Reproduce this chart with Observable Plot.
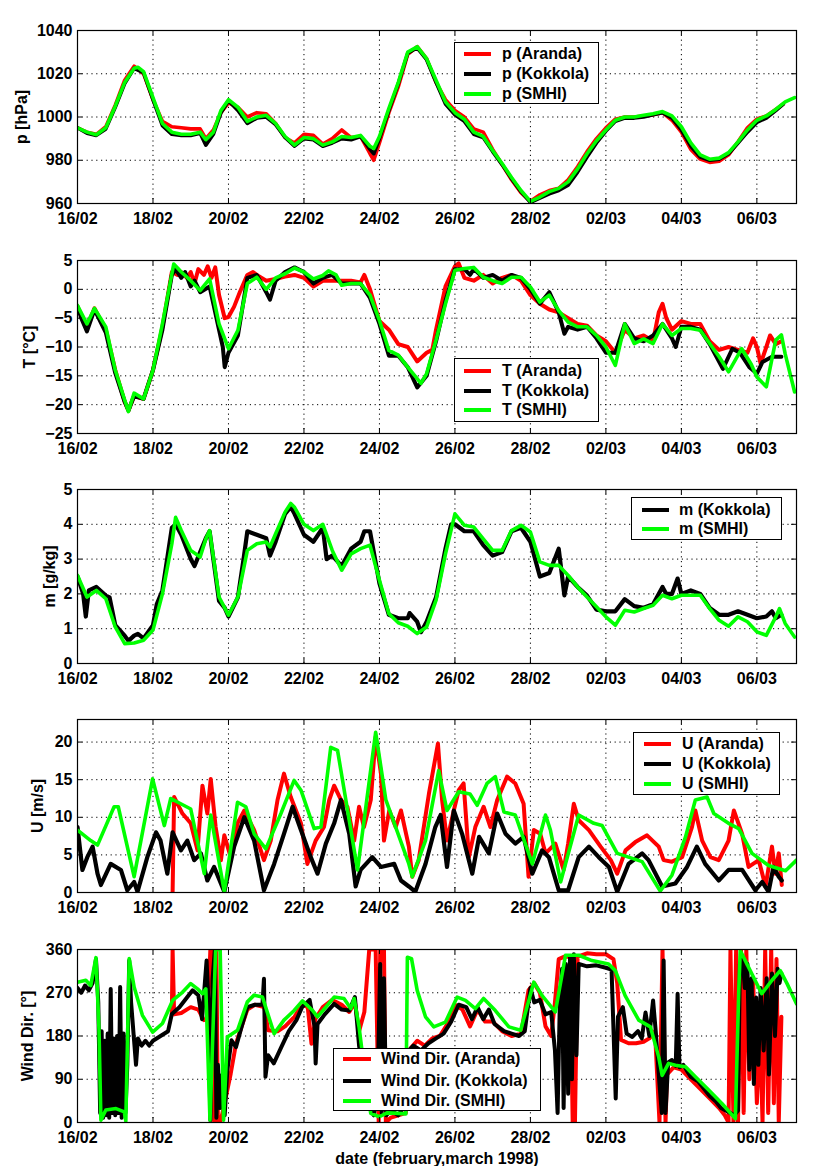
<!DOCTYPE html>
<html><head><meta charset="utf-8">
<script src="https://cdn.jsdelivr.net/npm/d3@7"></script>
<script src="https://cdn.jsdelivr.net/npm/@observablehq/plot@0.6"></script>
<style>
body{margin:0;background:#fff;}
#wrap{position:relative;width:816px;height:1166px;overflow:hidden;font-family:"Liberation Sans",Arial,sans-serif;font-weight:bold;background:#fff;}
.panel{position:absolute;left:0;}
.legend{position:absolute;background:#fff;border:1px solid #000;box-sizing:border-box;font-size:16px;color:#000;}
.row{position:absolute;height:20px;line-height:20px;white-space:nowrap;}
.swatch{position:absolute;height:4px;}
#topline{position:absolute;left:0;top:4px;width:816px;height:1px;background:#f55;}
</style></head><body><div id="wrap"><div id="topline"></div></div>
<script>
// ---- axes ----
const xTickDays = [0, 2, 4, 6, 8, 10, 12, 14, 16, 18];
const xTickLabels = ["16/02","18/02","20/02","22/02","24/02","26/02","28/02","02/03","04/03","06/03"];
const xDomain = [0, 19.05];
const colors = {Aranda: "#ff0000", Kokkola: "#000000", SMHI: "#00ff00"};

// ---- pressure [hPa], [day since 16/02, value] ----
const pAranda = [[0,995],[0.25,993],[0.5,992],[0.75,995.5],[1,1005.5],[1.25,1017],[1.5,1023.5],[1.75,1020],[2,1008],[2.25,998],[2.5,995.5],[2.75,995],[3,994.5],[3.25,994.5],[3.4,990],[3.6,994],[3.8,1002],[4,1006.5],[4.25,1004.5],[4.5,1000],[4.75,1002],[5,1001.5],[5.25,997],[5.5,990.5],[5.75,988],[6,992],[6.25,991.5],[6.5,987.5],[6.75,990],[7,994],[7.25,990.5],[7.5,991],[7.75,983],[7.85,980],[8,988],[8.25,1002],[8.5,1014],[8.75,1029],[9,1032.5],[9.25,1027],[9.5,1016],[9.75,1008],[10,1003],[10.25,1000],[10.5,994.5],[10.75,993],[11,985],[11.25,978],[11.5,971],[11.75,965],[12,961],[12.25,964],[12.5,966],[12.75,967],[13,971],[13.25,977],[13.5,984],[13.75,990],[14,995],[14.25,999],[14.5,1000],[14.75,1000],[15,1000.5],[15.25,1001],[15.5,1002],[15.75,998.5],[16,993],[16.25,985],[16.5,980.5],[16.75,979],[17,979.5],[17.25,982.5],[17.5,988.5],[17.75,995],[18,999],[18.25,1000.5],[18.5,1003.5],[18.7,1006]];
const pKokkola = [[0,995],[0.25,992.5],[0.5,991.5],[0.75,994.5],[1,1004.5],[1.25,1015.5],[1.5,1022.5],[1.75,1020.5],[2,1008],[2.25,996],[2.5,992],[2.75,991.5],[3,991.5],[3.25,992.5],[3.4,987],[3.6,992],[3.8,1002],[4,1007.5],[4.25,1003],[4.5,997],[4.75,999.5],[5,1000],[5.25,996.5],[5.5,990.5],[5.75,986.5],[6,990],[6.25,989.5],[6.5,986.5],[6.75,988],[7,990],[7.25,989.5],[7.5,991],[7.75,985],[7.85,983],[8,990],[8.25,1003],[8.5,1015.5],[8.75,1029.5],[9,1032],[9.25,1026.5],[9.5,1016],[9.75,1006],[10,1001],[10.25,998],[10.5,992],[10.75,990.5],[11,984],[11.25,978],[11.5,971.5],[11.75,965.5],[12,960.5],[12.25,962.5],[12.5,964.5],[12.75,966],[13,968.5],[13.25,974.5],[13.5,981.5],[13.75,988],[14,993.5],[14.25,998],[14.5,999.5],[14.75,999.5],[15,1000],[15.25,1001],[15.5,1002],[15.75,999.5],[16,994],[16.25,986.5],[16.5,981.5],[16.75,980],[17,980.5],[17.25,983],[17.5,988],[17.75,993],[18,997.5],[18.25,999.5],[18.5,1003],[18.7,1006]];
const pSMHI = [[0,995],[0.25,993],[0.5,991.8],[0.75,995],[1,1005],[1.25,1016],[1.5,1022.5],[1.6,1023],[1.75,1021],[2,1009],[2.25,997],[2.5,993],[2.75,992],[3,992],[3.25,993],[3.4,989.5],[3.6,993],[3.8,1003],[4,1008],[4.25,1004.5],[4.5,998],[4.75,1000],[5,1000.8],[5.25,997],[5.5,991],[5.75,987],[6,990.5],[6.25,990],[6.5,987],[6.75,988.5],[7,991],[7.25,990.5],[7.5,991.5],[7.75,986.5],[7.85,985.4],[8,991],[8.25,1004],[8.5,1016],[8.75,1030],[9,1032.5],[9.25,1027],[9.5,1017],[9.75,1007],[10,1002],[10.25,999],[10.5,993],[10.75,991],[11,984.5],[11.25,978.5],[11.5,972],[11.75,966],[12,961],[12.25,963],[12.5,965.5],[12.75,967],[13,970],[13.25,976],[13.5,983],[13.75,989],[14,994],[14.25,998.5],[14.5,1000],[14.75,1000],[15,1000.8],[15.25,1001.5],[15.5,1002.5],[15.75,1000.5],[16,995.5],[16.25,988],[16.5,982.5],[16.75,980.5],[17,981],[17.25,983.5],[17.5,988.5],[17.75,994],[18,998.5],[18.25,1000.5],[18.5,1003.5],[18.75,1007],[19,1009]];

// ---- temperature [°C] ----
const tAranda = [[0,-3],[0.25,-6.5],[0.45,-3.3],[0.75,-7],[1,-14],[1.25,-19.5],[1.35,-21],[1.5,-18.5],[1.75,-19],[2,-14],[2.25,-6.5],[2.5,3],[2.65,2.5],[2.75,3],[2.9,2],[3,3],[3.1,1],[3.2,3.5],[3.35,2.5],[3.45,4],[3.55,2],[3.65,3.8],[3.75,-1],[3.9,-5],[4,-4.8],[4.15,-3],[4.3,-0.5],[4.5,2.5],[4.65,3],[4.75,2.5],[5,1.5],[5.25,1.8],[5.5,2.2],[5.75,2.5],[6,2],[6.25,0.5],[6.5,1.5],[6.75,1.5],[7,1.5],[7.25,1.5],[7.5,1.2],[7.6,2.5],[7.75,0],[8,-5.5],[8.25,-7],[8.5,-9.5],[8.75,-10],[9,-12.5],[9.25,-11],[9.4,-10.5],[9.5,-7],[9.75,0.5],[10,4],[10.1,4.5],[10.25,2],[10.5,1.5],[10.75,2.5],[11,1],[11.25,2],[11.5,2.5],[11.75,1.5],[12,-1],[12.25,-2.5],[12.5,-3.5],[12.75,-4],[13,-5],[13.25,-6],[13.5,-6.3],[13.75,-8],[14,-9],[14.25,-11],[14.5,-7],[14.75,-8.5],[15,-8],[15.25,-9],[15.4,-4],[15.5,-2.5],[15.6,-5],[15.75,-7],[16,-5.5],[16.25,-6],[16.5,-6],[16.75,-9],[17,-10.5],[17.25,-10],[17.5,-10.5],[17.75,-11],[17.9,-8.5],[18,-10],[18.1,-12.9],[18.25,-10],[18.35,-8],[18.5,-9.5],[18.65,-9]];
const tKokkola = [[0,-3],[0.1,-5],[0.25,-7.3],[0.45,-3.5],[0.75,-7.5],[1,-14.5],[1.25,-19.5],[1.35,-21],[1.5,-18.5],[1.75,-19],[2,-14],[2.25,-7],[2.5,2.5],[2.6,3.5],[2.75,2],[2.85,3],[3,0.5],[3.1,1.5],[3.25,-0.5],[3.5,0.5],[3.75,-7],[3.85,-10],[3.9,-13.5],[4,-11],[4.25,-8],[4.5,2],[4.75,2.5],[5,-0.5],[5.1,-1.8],[5.25,1.5],[5.5,3],[5.75,3.8],[6,3],[6.25,1],[6.5,2],[6.75,2.5],[7,1],[7.25,1],[7.5,1],[7.75,-1.5],[8,-6],[8.25,-11.5],[8.5,-11.5],[8.75,-13.5],[9,-17],[9.25,-15],[9.5,-9],[9.75,-2],[10,3.5],[10.25,3.5],[10.4,2.5],[10.5,3.5],[10.75,2],[11,2.5],[11.25,1.5],[11.5,2.5],[11.75,2],[12,0],[12.25,-2.5],[12.5,-0.5],[12.75,-4],[12.9,-7.7],[13,-6.5],[13.25,-7],[13.5,-6.5],[13.75,-8.5],[14,-11],[14.25,-11],[14.5,-6],[14.75,-8.5],[15,-9],[15.25,-8],[15.5,-6],[15.75,-8.5],[15.85,-10],[16,-6.5],[16.25,-6.5],[16.5,-7],[16.75,-9.5],[17.1,-13.8],[17.35,-10.3],[17.55,-11],[17.8,-13.5],[18,-14.6],[18.15,-12.6],[18.4,-11.7],[18.65,-11.7]];
const tSMHI = [[0,-2.8],[0.25,-6],[0.45,-3.3],[0.75,-6.5],[1,-14],[1.25,-19.2],[1.35,-21.2],[1.5,-18],[1.75,-19],[2,-14],[2.25,-6],[2.55,4.4],[2.75,3],[3,1.5],[3.25,-0.2],[3.5,1.8],[3.75,-6],[4,-10.3],[4.25,-7.1],[4.5,1],[4.75,2.1],[5,0],[5.25,2],[5.5,2.7],[5.75,3.7],[6,3],[6.25,1.8],[6.5,2.4],[6.65,3.2],[6.85,2.5],[7,0.7],[7.25,1],[7.5,1],[7.75,-1],[8,-5.4],[8.25,-10.6],[8.5,-11.4],[8.75,-13.5],[9,-15.5],[9.1,-16.3],[9.25,-14.6],[9.5,-8.8],[9.75,-2.5],[10,3.3],[10.25,3.6],[10.5,3.8],[10.75,2.1],[11,1.5],[11.25,1],[11.5,2.1],[11.75,2.1],[12,0.4],[12.25,-2.2],[12.5,-1],[12.75,-3.7],[13,-5.7],[13.25,-6.5],[13.5,-6.5],[13.75,-8],[14,-10],[14.25,-13.2],[14.5,-6],[14.75,-9.4],[15,-8.6],[15.25,-9.4],[15.5,-6],[15.75,-8],[16,-6.8],[16.25,-6.8],[16.5,-7.1],[16.75,-9.4],[17,-11.7],[17.25,-14.3],[17.6,-10.3],[17.85,-13],[18,-15.2],[18.25,-16.9],[18.5,-8.8],[18.65,-7.9],[18.75,-11.2],[19,-17.8]];

// ---- specific humidity [g/kg] ----
const mKokkola = [[0,2.5],[0.15,2],[0.22,1.35],[0.3,2.1],[0.5,2.2],[0.75,1.95],[0.85,1.9],[1,1.1],[1.25,0.8],[1.35,0.65],[1.5,0.8],[1.6,0.85],[1.75,0.72],[2,1.1],[2.1,1.7],[2.25,2.1],[2.5,3.9],[2.6,4],[2.75,3.7],[3,3],[3.1,2.8],[3.25,3.2],[3.4,3.6],[3.5,3.8],[3.75,1.8],[3.9,1.6],[4,1.35],[4.25,1.9],[4.4,3],[4.5,3.8],[4.75,3.7],[5,3.6],[5.1,3.1],[5.25,3.5],[5.5,4.3],[5.65,4.5],[5.75,4.3],[6,3.7],[6.25,3.5],[6.5,3.9],[6.6,3],[6.75,3.1],[7,2.8],[7.25,3.3],[7.5,3.5],[7.6,3.8],[7.75,3.8],[8,2.3],[8.25,1.4],[8.5,1.3],[8.75,1.3],[8.8,1.45],[9,1.2],[9.1,0.9],[9.25,1.2],[9.5,1.9],[9.75,3.3],[9.9,4],[10,4],[10.25,3.8],[10.5,3.8],[10.75,3.4],[11,3.1],[11.25,3.2],[11.5,3.8],[11.75,3.9],[12,3.5],[12.25,2.5],[12.5,2.6],[12.75,3.3],[12.9,1.96],[13,2.5],[13.25,2.2],[13.5,1.95],[13.75,1.55],[14,1.5],[14.25,1.5],[14.5,1.85],[14.75,1.65],[15,1.6],[15.25,1.7],[15.5,2.2],[15.6,2],[15.75,2],[15.9,2.44],[16,2],[16.25,2.1],[16.5,2],[16.75,1.6],[17,1.4],[17.25,1.4],[17.5,1.5],[17.75,1.4],[18,1.3],[18.25,1.35],[18.4,1.5],[18.5,1.3],[18.65,1.4]];
const mSMHI = [[0,2.53],[0.25,1.91],[0.5,2.1],[0.75,1.86],[1,1.05],[1.25,0.57],[1.5,0.59],[1.75,0.67],[2,0.96],[2.25,2],[2.5,3.44],[2.6,4.2],[2.75,3.82],[3,3.25],[3.25,3.06],[3.4,3.58],[3.5,3.82],[3.75,1.91],[4,1.39],[4.25,1.91],[4.5,3.25],[4.75,3.44],[5,3.49],[5.1,3.35],[5.25,3.73],[5.5,4.35],[5.65,4.6],[5.75,4.49],[6,4],[6.25,3.82],[6.5,4],[6.75,3.25],[7,2.68],[7.25,3.15],[7.5,3.3],[7.75,3.4],[8,2.39],[8.25,1.43],[8.5,1.17],[8.75,1.07],[9,0.86],[9.25,1.05],[9.5,1.82],[9.75,3.15],[10,4.3],[10.25,3.97],[10.5,3.92],[10.75,3.58],[11,3.25],[11.25,3.25],[11.5,3.82],[11.75,3.97],[12,3.78],[12.25,2.92],[12.5,2.82],[12.75,2.82],[13,2.53],[13.25,2.2],[13.5,1.91],[13.75,1.63],[14,1.34],[14.25,1.1],[14.5,1.53],[14.75,1.48],[15,1.58],[15.25,1.67],[15.5,1.96],[15.75,1.86],[16,1.96],[16.25,1.96],[16.5,1.96],[16.75,1.58],[17,1.24],[17.25,1.07],[17.5,1.34],[17.75,1.2],[18,0.91],[18.25,0.81],[18.5,1.34],[18.6,1.58],[18.75,1.15],[19,0.76]];

// ---- wind speed [m/s] ----
const uAranda = [[2.52,0.1],[2.56,12.7],[2.78,10.5],[3,9.2],[3.18,5.6],[3.31,14.2],[3.44,10.5],[3.53,15.1],[3.66,8.7],[3.8,4.3],[3.89,7.6],[4.06,4.7],[4.24,9.2],[4.42,10.9],[4.68,8.3],[4.94,4.3],[5.12,6.9],[5.3,12.3],[5.47,15.8],[5.65,12.7],[5.92,9.2],[6.09,3.8],[6.31,6.9],[6.53,8.7],[6.67,12.3],[6.8,14.2],[6.98,12.3],[7.15,11.4],[7.33,6.9],[7.46,11.4],[7.59,8.7],[7.77,12.3],[7.9,20.7],[8.04,15.8],[8.12,6.9],[8.26,10.9],[8.43,8.7],[8.57,10.9],[8.78,6.1],[8.87,2.1],[9.04,4.3],[9.31,13.1],[9.55,19.8],[9.66,12.3],[9.79,6.9],[9.97,10.9],[10.1,13.6],[10.23,14.5],[10.37,4.7],[10.54,8.7],[10.76,11.4],[10.94,8.7],[11.12,12.3],[11.38,15.4],[11.6,14.5],[11.82,11.8],[11.95,2.1],[12.09,8.3],[12.26,7.8],[12.4,5.2],[12.66,6.5],[12.88,3],[13,6.5],[13.15,11.8],[13.28,9.6],[13.55,8.3],[13.86,6.1],[14.13,4.3],[14.3,2.5],[14.52,5.6],[14.78,6.7],[15.09,7.6],[15.4,6.1],[15.53,4.3],[15.75,4.1],[16.02,4.7],[16.28,8.7],[16.37,10.9],[16.55,6.9],[16.77,4.7],[16.99,4.3],[17.25,6.9],[17.39,10.9],[17.61,7.8],[17.78,3.4],[18.05,4.3],[18.23,0.8],[18.4,6.1],[18.49,2.5],[18.58,5.2],[18.66,1]];
const uKokkola = [[0,8.7],[0.13,3],[0.26,4.7],[0.4,6.1],[0.53,2.5],[0.62,1],[0.88,3.8],[1.15,3],[1.32,0.3],[1.5,1.4],[1.59,0.1],[1.85,4.7],[2.08,8],[2.2,6.9],[2.38,2.5],[2.52,8],[2.74,5.6],[2.91,6.9],[3.09,4.3],[3.27,5.2],[3.44,1.6],[3.62,3.4],[3.89,0.1],[4.15,6.1],[4.42,10],[4.68,6.9],[4.94,0.3],[5.21,3.8],[5.47,7.8],[5.7,11.4],[5.92,8.3],[6.18,4.7],[6.36,2.5],[6.58,6.5],[6.8,9.2],[6.98,12.3],[7.2,7.8],[7.37,0.8],[7.5,3],[7.81,4.7],[8.04,3.4],[8.39,3.8],[8.57,1.6],[8.78,0.8],[8.95,0.1],[9.22,3.8],[9.48,8.7],[9.62,10.3],[9.79,3.4],[9.97,10.9],[10.19,7.8],[10.46,2.5],[10.64,7.4],[10.9,5.2],[11.12,10.5],[11.34,7.8],[11.6,6.5],[11.82,7.4],[12.05,2.5],[12.31,5.6],[12.49,4.7],[12.75,0.3],[13,0.3],[13.28,4.7],[13.55,6.1],[13.81,4.7],[14.08,3.4],[14.3,0.1],[14.6,3.8],[14.96,5.2],[15.13,4.3],[15.49,0.8],[15.84,1.2],[16.15,3.4],[16.41,6.1],[16.63,3.8],[16.99,1.6],[17.25,3],[17.61,3],[17.96,0.3],[18.14,1.4],[18.31,0.1],[18.44,3.4],[18.58,2.1],[18.66,1.6]];
const uSMHI = [[0,8.3],[0.35,6.9],[0.53,6.3],[0.97,11.4],[1.08,11.4],[1.5,2.1],[1.99,15.1],[2.3,8.9],[2.47,12.5],[3,11.1],[3.36,2.5],[3.53,10.3],[3.89,0.1],[4.24,12],[4.46,11.4],[4.68,7.8],[4.99,5.8],[5.39,10.5],[5.74,14.9],[5.92,13.6],[6.27,8.5],[6.45,8.7],[6.71,19.3],[6.89,18.9],[7.42,3],[7.9,21.3],[8.17,12.3],[8.78,3.8],[8.87,2.1],[9.22,6.9],[9.57,16.2],[9.79,10.9],[10.1,13.4],[10.4,13.1],[10.59,11.6],[10.85,14.5],[11.07,15.4],[11.3,10.7],[11.6,10.3],[12.05,3.8],[12.4,10.3],[12.53,8.3],[12.8,1.4],[13.28,10.3],[13.68,9.2],[13.9,8.9],[14.3,5.2],[14.6,4.7],[14.96,4.1],[15.44,0.2],[15.75,2.3],[16.11,7.4],[16.37,12.3],[16.68,12.7],[16.86,10.5],[17.25,9.2],[17.52,8.5],[17.87,5.2],[18.31,3.6],[18.76,2.9],[19.05,4.3]];

// ---- wind direction [deg] ----
const wdAranda = [[2.5,225],[2.52,360],[2.56,225],[2.75,228],[3,240],[3.2,235],[3.35,213],[3.45,215],[3.52,360],[3.58,360],[3.62,0],[3.68,360],[3.72,0],[3.8,5],[3.95,60],[4.06,102],[4.2,164],[4.35,200],[4.5,235],[4.7,245],[4.95,240],[5.05,192],[5.3,190],[5.5,200],[5.75,220],[5.95,245],[6.1,240],[6.2,164],[6.3,215],[6.5,240],[6.75,255],[7,245],[7.2,230],[7.35,250],[7.46,190],[7.6,230],[7.73,360],[7.9,360],[7.98,0],[8.02,360],[8.12,360],[8.17,0],[8.3,10],[8.5,15],[8.7,20],[8.78,150],[9,170],[9.2,160],[9.4,175],[9.6,180],[9.8,205],[10,245],[10.2,235],[10.4,200],[10.6,235],[10.8,210],[11,210],[11.25,190],[11.5,180],[11.75,185],[11.95,275],[12.1,290],[12.25,270],[12.4,200],[12.55,180],[12.65,250],[12.75,340],[12.9,345],[13.05,345],[13.12,0],[13.18,0],[13.25,345],[13.5,352],[13.75,350],[14,350],[14.2,340],[14.3,290],[14.4,172],[14.6,165],[14.8,165],[15,168],[15.15,175],[15.3,190],[15.42,0],[15.5,360],[15.58,0],[15.62,100],[15.8,115],[16,110],[16.25,90],[16.5,70],[16.75,50],[17,30],[17.15,15],[17.25,0],[17.3,360],[17.38,0],[17.45,360],[17.5,0],[17.58,360],[17.65,20],[17.72,360],[17.8,90],[17.9,300],[18,40],[18.08,200],[18.15,0],[18.22,360],[18.3,20],[18.38,360],[18.45,40],[18.52,340],[18.58,0],[18.65,220]];
const wdKokkola = [[0,280],[0.1,270],[0.2,285],[0.3,275],[0.4,290],[0.49,340],[0.55,250],[0.6,20],[0.64,190],[0.68,10],[0.72,170],[0.76,15],[0.8,185],[0.84,10],[0.88,278],[0.92,20],[0.96,175],[1,15],[1.05,180],[1.09,20],[1.13,282],[1.17,10],[1.22,185],[1.27,20],[1.32,120],[1.37,337],[1.42,250],[1.5,170],[1.55,120],[1.6,175],[1.7,160],[1.8,170],[1.9,160],[2,170],[2.2,180],[2.4,190],[2.5,226],[2.7,240],[2.9,260],[3.05,275],[3.2,265],[3.3,215],[3.42,337],[3.47,250],[3.52,5],[3.58,300],[3.64,360],[3.68,10],[3.72,120],[3.78,30],[3.84,100],[3.9,15],[3.97,109],[4.08,171],[4.2,157],[4.35,200],[4.5,240],[4.7,245],[4.9,245],[4.94,299],[4.98,95],[5.05,140],[5.2,123],[5.4,157],[5.6,190],[5.8,213],[5.95,240],[6.15,255],[6.28,200],[6.31,123],[6.36,205],[6.55,225],[6.8,247],[7,235],[7.2,233],[7.35,261],[7.46,160],[7.6,90],[7.75,30],[7.85,15],[7.95,60],[8.02,330],[8.06,20],[8.12,300],[8.18,15],[8.3,25],[8.5,15],[8.7,40],[8.78,150],[8.9,160],[9.1,150],[9.3,165],[9.5,175],[9.7,185],[9.9,210],[10.1,245],[10.3,240],[10.45,215],[10.6,240],[10.75,215],[10.9,235],[11.05,205],[11.3,190],[11.5,185],[11.7,180],[11.85,190],[12,280],[12.1,250],[12.25,255],[12.4,225],[12.55,230],[12.65,150],[12.72,20],[12.78,250],[12.84,320],[12.88,30],[12.94,330],[13,60],[13.05,345],[13.1,90],[13.15,350],[13.22,140],[13.28,330],[13.5,325],[13.75,327],[14,322],[14.15,318],[14.26,50],[14.32,220],[14.45,240],[14.55,185],[14.7,178],[14.85,190],[14.95,175],[15.05,229],[15.15,180],[15.25,254],[15.32,190],[15.42,80],[15.48,20],[15.53,337],[15.58,20],[15.65,125],[15.75,130],[15.85,118],[15.9,268],[15.95,115],[16.05,120],[16.25,95],[16.45,85],[16.6,70],[16.75,55],[16.9,45],[17.05,30],[17.25,22],[17.4,15],[17.5,25],[17.55,330],[17.62,340],[17.68,280],[17.75,330],[17.8,110],[17.86,300],[17.92,80],[17.98,260],[18.04,120],[18.1,280],[18.18,150],[18.26,300],[18.32,100],[18.4,310],[18.48,180],[18.55,320],[18.6,290],[18.65,310]];
const wdSMHI = [[0,292],[0.22,296],[0.35,285],[0.49,343],[0.57,192],[0.62,5],[0.75,26],[1.02,29],[1.24,22],[1.28,3],[1.37,341],[1.5,282],[1.72,223],[1.99,188],[2.25,206],[2.52,254],[2.78,271],[3,289],[3.18,278],[3.31,268],[3.4,278],[3.51,5],[3.66,360],[3.78,360],[3.87,5],[3.97,178],[4.24,192],[4.5,251],[4.68,265],[4.9,261],[5.21,185],[5.47,213],[5.74,233],[5.96,253],[6.23,233],[6.36,220],[6.58,240],[6.8,261],[7.06,258],[7.24,237],[7.33,258],[7.46,199],[7.6,110],[7.77,19],[8,12],[8.2,20],[8.5,19],[8.7,18],[8.74,344],[8.85,341],[9,275],[9.22,220],[9.44,199],[9.75,209],[10.06,261],[10.28,254],[10.54,237],[10.76,258],[11.07,233],[11.43,199],[11.74,192],[12.09,292],[12.31,264],[12.66,230],[12.93,348],[13.28,348],[13.63,337],[14.07,330],[14.25,316],[14.51,264],[14.87,213],[15.18,199],[15.4,136],[15.49,98],[15.66,123],[15.84,119],[16.11,116],[16.37,95],[16.73,67],[17.08,39],[17.43,8],[17.52,275],[17.56,358],[17.78,323],[18.13,268],[18.4,296],[18.62,316],[18.8,289],[19.05,247]];

// ---- panel builder ----
const FONT = '"Liberation Sans", Arial, Helvetica, sans-serif';
const wrap = document.getElementById("wrap");
const yFmt = d3.format("d");

function panel(cfg) {
  const {top, height, marginTop, marginBottom, yDomain, yTicks, ylabel, ylabelDx, series, xlabel} = cfg;
  const [y0, y1] = yDomain;
  const frameH = height - marginTop - marginBottom;
  const tly = (y1 - y0) * 5 / frameH;
  const tlx = (xDomain[1] - xDomain[0]) * 5 / (816 - 77 - 20);
  const marks = [
    Plot.ruleX(xTickDays, {x: d => d, stroke: "#000", strokeWidth: 1, strokeDasharray: "1.2,3.6"}),
    Plot.ruleY(yTicks, {y: d => d, stroke: "#000", strokeWidth: 1, strokeDasharray: "1.2,3.6"}),
    ...series.map(s => Plot.line(s.data, {x: d => d[0], y: d => d[1], stroke: s.color, strokeWidth: s.w || 3.6, strokeLinejoin: "round", clip: true})),
    Plot.ruleX(xTickDays, {x: d => d, y1: y0, y2: y0 + tly, stroke: "#000", strokeWidth: 1}),
    Plot.ruleX(xTickDays, {x: d => d, y1: y1 - tly, y2: y1, stroke: "#000", strokeWidth: 1}),
    Plot.ruleY(yTicks, {y: d => d, x1: xDomain[0], x2: xDomain[0] + tlx, stroke: "#000", strokeWidth: 1}),
    Plot.ruleY(yTicks, {y: d => d, x1: xDomain[1] - tlx, x2: xDomain[1], stroke: "#000", strokeWidth: 1}),
    Plot.frame({stroke: "#000", strokeWidth: 1.2}),
    Plot.axisX(xTickDays, {tickSize: 0, tickPadding: 9, label: null, tickFormat: d => xTickLabels[xTickDays.indexOf(d)], fill: "#000"}),
    Plot.axisY(yTicks, {tickSize: 0, tickPadding: 5, label: null, tickFormat: yFmt, fill: "#000"}),
    Plot.text([ylabel], {frameAnchor: "left", dx: ylabelDx, rotate: -90, text: d => d, textAnchor: "middle", lineAnchor: "middle", fill: "#000"})
  ];
  if (xlabel) marks.push(Plot.text([xlabel], {frameAnchor: "bottom", dy: 36, text: d => d, textAnchor: "middle", lineAnchor: "middle", fill: "#000"}));
  const svg = Plot.plot({
    width: 816, height, marginLeft: 77, marginRight: 20, marginTop, marginBottom,
    x: {domain: xDomain}, y: {domain: yDomain},
    style: {fontFamily: FONT, fontSize: "16px", fontWeight: "bold", background: "white", overflow: "visible", color: "#000"},
    marks
  });
  const div = document.createElement("div");
  div.className = "panel";
  div.style.top = top + "px";
  div.appendChild(svg);
  wrap.appendChild(div);
}

function legend(box, lineX, textX, rows) {
  const el = document.createElement("div");
  el.className = "legend";
  el.style.left = box[0] + "px"; el.style.top = box[1] + "px";
  el.style.width = box[2] + "px"; el.style.height = box[3] + "px";
  rows.forEach(r => {
    const sw = document.createElement("div");
    sw.className = "swatch";
    sw.style.left = (lineX[0] - box[0]) + "px";
    sw.style.width = (lineX[1] - lineX[0]) + "px";
    sw.style.top = (r.cy - box[1] - 2) + "px";
    sw.style.background = r.color;
    el.appendChild(sw);
    const t = document.createElement("div");
    t.className = "row";
    t.style.left = (textX - box[0]) + "px";
    t.style.top = (r.cy - box[1] - 10) + "px";
    t.textContent = r.label;
    el.appendChild(t);
  });
  wrap.appendChild(el);
}

panel({top: 0, height: 230, marginTop: 30, marginBottom: 27, yDomain: [960, 1040], yTicks: [960, 980, 1000, 1020, 1040],
  ylabel: "p [hPa]", ylabelDx: -56,
  series: [{data: pAranda, color: colors.Aranda}, {data: pKokkola, color: colors.Kokkola}, {data: pSMHI, color: colors.SMHI}]});
panel({top: 230, height: 230, marginTop: 30, marginBottom: 27, yDomain: [-25, 5], yTicks: [-25, -20, -15, -10, -5, 0, 5],
  ylabel: "T [°C]", ylabelDx: -48,
  series: [{data: tAranda, color: colors.Aranda, w: 4}, {data: tKokkola, color: colors.Kokkola, w: 4}, {data: tSMHI, color: colors.SMHI}]});
panel({top: 459, height: 230, marginTop: 30, marginBottom: 26, yDomain: [0, 5], yTicks: [0, 1, 2, 3, 4, 5],
  ylabel: "m [g/kg]", ylabelDx: -28,
  series: [{data: mKokkola, color: colors.Kokkola, w: 4.2}, {data: mSMHI, color: colors.SMHI}]});
panel({top: 689, height: 230, marginTop: 30, marginBottom: 27, yDomain: [0, 23], yTicks: [0, 5, 10, 15, 20],
  ylabel: "U [m/s]", ylabelDx: -40,
  series: [{data: uAranda, color: colors.Aranda, w: 4}, {data: uKokkola, color: colors.Kokkola, w: 4.2}, {data: uSMHI, color: colors.SMHI}]});
panel({top: 919, height: 247, marginTop: 30, marginBottom: 44, yDomain: [0, 360], yTicks: [0, 90, 180, 270, 360],
  ylabel: "Wind Dir. [°]", ylabelDx: -50, xlabel: "date (february,march 1998)",
  series: [{data: wdAranda, color: colors.Aranda, w: 4}, {data: wdKokkola, color: colors.Kokkola, w: 4}, {data: wdSMHI, color: colors.SMHI}]});

legend([454, 42, 145, 62], [463, 490], 501, [
  {label: "p (Aranda)", color: colors.Aranda, cy: 53},
  {label: "p (Kokkola)", color: colors.Kokkola, cy: 73},
  {label: "p (SMHI)", color: colors.SMHI, cy: 93}]);
legend([454, 358, 145, 64], [463, 490], 501, [
  {label: "T (Aranda)", color: colors.Aranda, cy: 370},
  {label: "T (Kokkola)", color: colors.Kokkola, cy: 390},
  {label: "T (SMHI)", color: colors.SMHI, cy: 409}]);
legend([631, 497, 151, 43], [641, 668], 678, [
  {label: "m (Kokkola)", color: colors.Kokkola, cy: 509},
  {label: "m (SMHI)", color: colors.SMHI, cy: 528}]);
legend([633, 732, 147, 63], [643, 670], 681, [
  {label: "U (Aranda)", color: colors.Aranda, cy: 743},
  {label: "U (Kokkola)", color: colors.Kokkola, cy: 763},
  {label: "U (SMHI)", color: colors.SMHI, cy: 783}]);
legend([333, 1048, 208, 63], [342, 370], 380, [
  {label: "Wind Dir. (Aranda)", color: colors.Aranda, cy: 1058},
  {label: "Wind Dir. (Kokkola)", color: colors.Kokkola, cy: 1080},
  {label: "Wind Dir. (SMHI)", color: colors.SMHI, cy: 1100}]);
</script>
</body></html>
